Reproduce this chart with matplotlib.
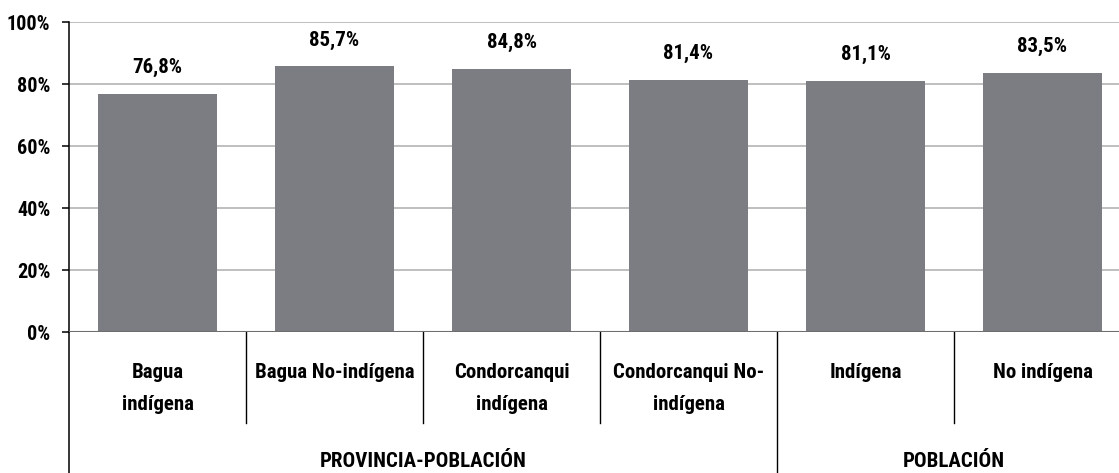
import matplotlib
matplotlib.use("Agg")
import matplotlib.pyplot as plt
from matplotlib import font_manager

categories = ["Bagua\nindígena", "Bagua No-indígena", "Condorcanqui\nindígena",
              "Condorcanqui No-\nindígena", "Indígena", "No indígena"]
values = [76.8, 85.7, 84.8, 81.4, 81.1, 83.5]
value_labels = ["76,8%", "85,7%", "84,8%", "81,4%", "81,1%", "83,5%"]
groups = ["PROVINCIA-POBLACIÓN", "POBLACIÓN"]
group_sizes = [4, 2]
yticks = [0, 20, 40, 60, 80, 100]
ytick_labels = ["0%", "20%", "40%", "60%", "80%", "100%"]

names = {f.name for f in font_manager.fontManager.ttflist}
fam = ["Liberation Sans Narrow", "Arial Narrow", "Roboto Condensed", "Liberation Sans", "DejaVu Sans"]
fam = [f for f in fam if f in names] or ["DejaVu Sans"]
plt.rcParams['font.family'] = fam

W, H = 1119, 473
fig = plt.figure(figsize=(W/100, H/100), dpi=100)
left, right, top, bottom = 69, 1131, 22, 332
ax = fig.add_axes([left/W, (H-bottom)/H, (right-left)/W, (bottom-top)/H])

x = list(range(len(values)))
ax.bar(x, values, width=0.667, color="#7c7d82", zorder=3)
ax.set_xlim(-0.5, len(values)-0.5)
ax.set_ylim(0, 100)
ax.set_yticks(yticks)
ax.set_yticklabels(ytick_labels, fontsize=14.5, fontweight='bold')
ax.yaxis.grid(True, color="#b4b4b4", linewidth=1.2, zorder=0)
ax.set_xticks([])
for s in ["top", "right", "bottom"]:
    ax.spines[s].set_visible(False)
ax.spines["left"].set_linewidth(1.1)
ax.axhline(0, color="#6e6e6e", linewidth=1.5, zorder=4)
ax.tick_params(axis='y', length=5, width=1.1, pad=8.5)

for xi, v, lab in zip(x, values, value_labels):
    ax.annotate(lab, (xi, v), xytext=(0, 19), textcoords="offset points",
                ha='center', va='center', fontsize=15, fontweight='bold')

ph = bottom - top
def yf(py):
    return (bottom - py) / ph

for xi, c in zip(x, categories):
    ax.text(xi, yf(363), c, transform=ax.get_xaxis_transform(), ha='center', va='top',
            fontsize=15, fontweight='bold', linespacing=1.88)

# separators
bounds = []
pos = 0
for g in group_sizes:
    pos += g
    bounds.append(pos)
for b in range(1, len(values)):
    xb = b - 0.5
    yend = yf(H) if b in bounds else yf(423)
    ax.plot([xb, xb], [0, yend], transform=ax.get_xaxis_transform(), color="black",
            linewidth=1.0, clip_on=False)
ax.plot([-0.5, -0.5], [0, yf(H)], transform=ax.get_xaxis_transform(), color="black",
        linewidth=1.1, clip_on=False)

start = 0
for g, n in zip(groups, group_sizes):
    cx = start + (n - 1) / 2
    ax.text(cx, yf(461), g, transform=ax.get_xaxis_transform(), ha='center', va='center',
            fontsize=15, fontweight='bold')
    start += n

fig.savefig("out.png", dpi=100)
